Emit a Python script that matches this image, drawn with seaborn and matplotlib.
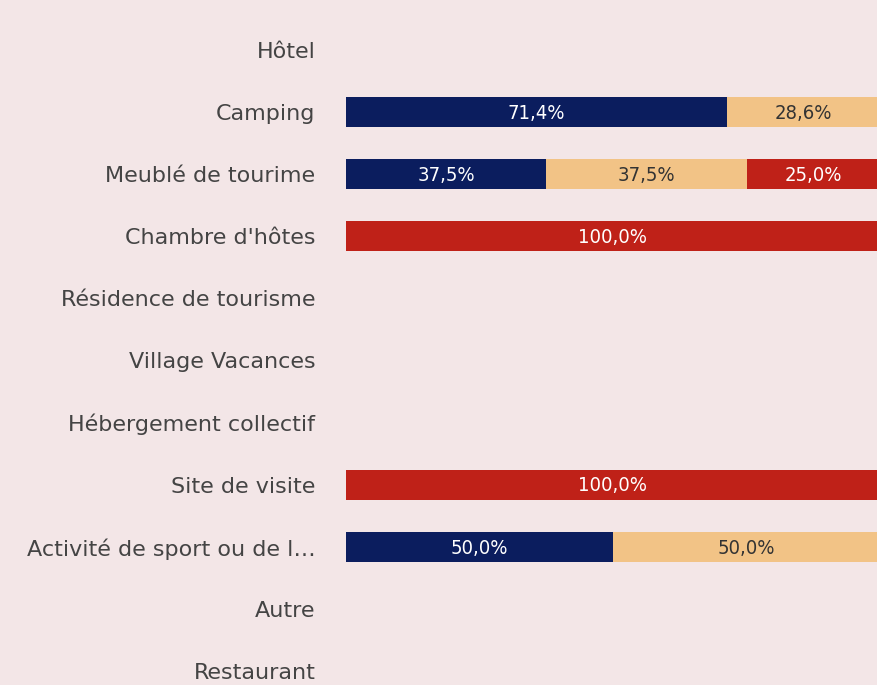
"""Stacked 100% horizontal bars per establishment type."""

import matplotlib.pyplot as plt
import pandas as pd
import seaborn as sns

categories = [
    "Hôtel", "Camping", "Meublé de tourime", "Chambre d'hôtes",
    "Résidence de tourisme", "Village Vacances", "Hébergement collectif",
    "Site de visite", "Activité de sport ou de l…", "Autre", "Restaurant",
]
series_names = ["Oui", "En partie", "Non"]
share_oui = [0, 71.4, 37.5, 0, 0, 0, 0, 0, 50.0, 0, 0]
share_partie = [0, 28.6, 37.5, 0, 0, 0, 0, 0, 50.0, 0, 0]
share_non = [0, 0, 25.0, 100.0, 0, 0, 0, 100.0, 0, 0, 0]
colors = ["#0b1d5e", "#f2c386", "#bf2118"]
label_colors = ["white", "#333333", "white"]

BG = "#f3e6e7"

sns.set_theme(style="white")
plt.rcParams['font.family'] = ['DejaVu Sans']

df = pd.DataFrame({
    "categorie": categories,
    "s1": share_oui,
    "s2": share_partie,
    "s3": share_non,
})
df["c1"] = df["s1"]
df["c2"] = df["s1"] + df["s2"]
df["c3"] = df["c2"] + df["s3"]

fig = plt.figure(figsize=(8.77, 6.85), dpi=100, facecolor=BG)
ax = fig.add_axes([346 / 877, 0, 534 / 877, 1])
ax.set_facecolor(BG)

# draw cumulative totals from the back to the front
for col, color in zip(["c3", "c2", "c1"], colors[::-1]):
    sns.barplot(data=df, x=col, y="categorie", order=categories, orient="h",
                color=color, width=0.48, linewidth=0, saturation=1, ax=ax)

for i, row in df.iterrows():
    start = 0
    for key, tcol in zip(["s1", "s2", "s3"], label_colors):
        val = row[key]
        if val > 0:
            ax.text(start + val / 2, i + 0.02, f"{val:.1f}%".replace(".", ","),
                    ha="center", va="center", color=tcol, fontsize=14.5,
                    fontstretch="condensed", zorder=5)
        start += val

ax.set_xlim(0, 100)
ax.set_ylim(10 + 14 / 62.1, -50 / 62.1)
ax.set_xlabel("")
ax.set_ylabel("")
ax.set_xticks([])
ax.tick_params(axis="y", length=0, pad=22, labelsize=16, labelcolor="#444444")
sns.despine(ax=ax, left=True, bottom=True)

plt.savefig("out.png", dpi=100, facecolor=BG)
plt.close()
